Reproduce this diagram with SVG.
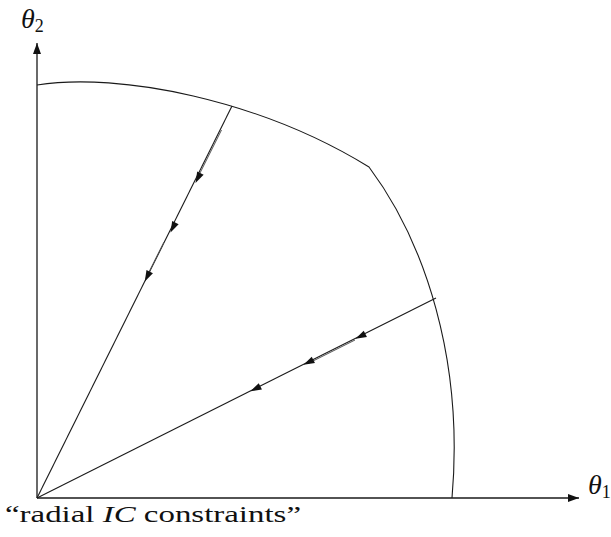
<svg xmlns="http://www.w3.org/2000/svg" width="611" height="537" viewBox="0 0 611 537">
  <style>
    .ln { fill: none; stroke: #1a1a1a; stroke-width: 1.1; }
    .dbl { fill: none; stroke: #555; stroke-width: 1; }
    .ax { fill: none; stroke: #1a1a1a; stroke-width: 1.3; }
    .lbl { font-family: "Liberation Serif", "DejaVu Serif", serif; fill: #111; }
    .it { font-style: italic; }
  </style>
  <defs>
    <path id="ah" d="M0,0 L-11,-3.6 L-11,3.6 Z" fill="#111"/>
    <marker id="axarrow" markerWidth="12" markerHeight="8" refX="11" refY="4" orient="auto" markerUnits="userSpaceOnUse">
      <path d="M0,0 L11,4 L0,8 Z" fill="#111"/>
    </marker>
  </defs>

  <g id="axes">
    <line class="ax" x1="37" y1="498" x2="37" y2="43" marker-end="url(#axarrow)"/>
    <line class="ax" x1="37" y1="498" x2="579" y2="498" marker-end="url(#axarrow)"/>
  </g>

  <g id="frontier">
    <path class="ln" d="M37,85 C120,72 260,100 369,167 C425,242 464,360 452,498"/>
  </g>

  <g id="connectors">
    <line class="ln" x1="37" y1="498" x2="232" y2="106"/>
    <line class="ln" x1="37" y1="498" x2="436" y2="298"/>
    <line class="dbl" x1="221.5" y1="130" x2="196.5" y2="180"/>
    <line class="dbl" x1="164" y1="242" x2="146" y2="278"/>
    <line class="dbl" x1="355" y1="340" x2="308" y2="363.5"/>
    <use href="#ah" transform="translate(195.5,183) rotate(116.45)"/>
    <use href="#ah" transform="translate(170.5,232.5) rotate(116.45)"/>
    <use href="#ah" transform="translate(144.8,281.5) rotate(116.45)"/>
    <use href="#ah" transform="translate(355.5,338.8) rotate(153.43)"/>
    <use href="#ah" transform="translate(303.5,364.8) rotate(153.43)"/>
    <use href="#ah" transform="translate(250.5,391.3) rotate(153.43)"/>
  </g>

  <g id="label-theta2">
    <text class="lbl" x="21" y="28" font-size="28"><tspan class="it">θ</tspan><tspan font-size="18" dy="4">2</tspan></text>
  </g>
  <g id="label-theta1">
    <text class="lbl" x="588" y="494" font-size="28"><tspan class="it">θ</tspan><tspan font-size="18" dy="4">1</tspan></text>
  </g>
  <g id="caption">
    <text class="lbl" x="5" y="522" font-size="24" textLength="296" lengthAdjust="spacingAndGlyphs">“radial <tspan class="it">IC</tspan> constraints”</text>
  </g>
</svg>
